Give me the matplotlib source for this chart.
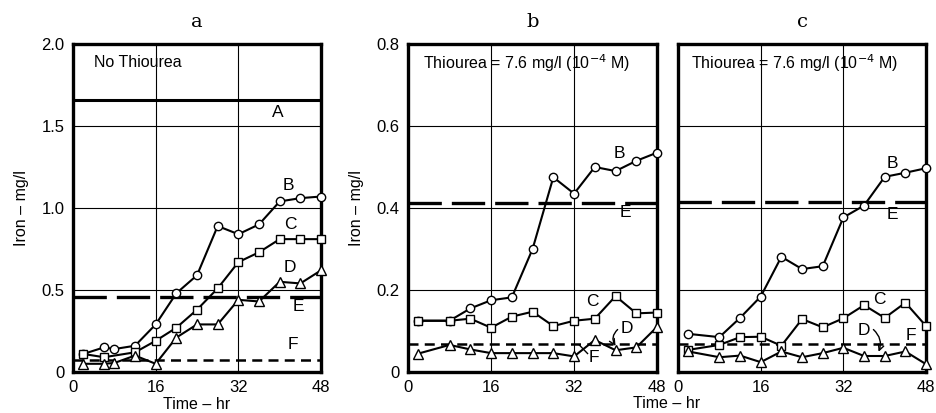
import matplotlib
matplotlib.use("Agg")
import matplotlib.pyplot as plt

# ---- data ---------------------------------------------------------------
a_t = [2, 6, 8, 12, 16, 20, 24, 28, 32, 36, 40, 44, 48]
a_B = [0.11, 0.15, 0.14, 0.16, 0.29, 0.48, 0.59, 0.89, 0.84, 0.90, 1.04, 1.06, 1.07]
a_C_t = [2, 6, 12, 16, 20, 24, 28, 32, 36, 40, 44, 48]
a_C = [0.11, 0.09, 0.12, 0.19, 0.27, 0.38, 0.51, 0.67, 0.73, 0.81, 0.81, 0.81]
a_D = [0.05, 0.05, 0.055, 0.10, 0.05, 0.21, 0.29, 0.29, 0.44, 0.43, 0.55, 0.54, 0.62]
a_ref = {"A": 1.66, "E": 0.46, "F": 0.075}

b_t = [2, 8, 12, 16, 20, 24, 28, 32, 36, 40, 44, 48]
b_B = [0.125, 0.125, 0.155, 0.175, 0.182, 0.30, 0.475, 0.435, 0.50, 0.49, 0.515, 0.535]
b_C = [0.125, 0.125, 0.13, 0.108, 0.135, 0.147, 0.112, 0.125, 0.13, 0.185, 0.143, 0.145]
b_D = [0.045, 0.066, 0.055, 0.046, 0.046, 0.046, 0.046, 0.038, 0.078, 0.053, 0.06, 0.11]
b_ref = {"E": 0.412, "F": 0.068}

c_t = [2, 8, 12, 16, 20, 24, 28, 32, 36, 40, 44, 48]
c_B = [0.093, 0.085, 0.132, 0.184, 0.281, 0.251, 0.258, 0.377, 0.406, 0.476, 0.486, 0.497]
c_C = [0.054, 0.066, 0.085, 0.086, 0.064, 0.129, 0.109, 0.131, 0.163, 0.132, 0.169, 0.112]
c_D = [0.05, 0.036, 0.04, 0.024, 0.05, 0.036, 0.046, 0.059, 0.039, 0.039, 0.05, 0.019]
c_ref = {"E": 0.415, "F": 0.068}

x_ticks = [0, 16, 32, 48]
a_yticks = [0, 0.5, 1.0, 1.5, 2.0]
a_ylabels = ["0", "0.5", "1.0", "1.5", "2.0"]
b_yticks = [0, 0.2, 0.4, 0.6, 0.8]
b_ylabels = ["0", "0.2", "0.4", "0.6", "0.8"]
note_b = "Thiourea = 7.6 mg/l (10$^{-4}$ M)"

plt.rcParams["font.family"] = ["Liberation Sans", "DejaVu Sans"]
fig = plt.figure(figsize=(9.36, 4.13), dpi=100)

BOT, H = 0.0993, 0.7942
ax_a = fig.add_axes([0.078, BOT, 0.265, H])
ax_b = fig.add_axes([0.436, BOT, 0.266, H])
ax_c = fig.add_axes([0.7244, BOT, 0.265, H])

LW = 1.5
MK = dict(color="black", lw=LW, mfc="white", mec="black", mew=1.0, clip_on=False, zorder=4)
LAB = 12.5


def frame(ax, ymax, yticks, ylabels):
    ax.set_xlim(0, 48)
    ax.set_ylim(0, ymax)
    ax.set_xticks(x_ticks)
    ax.set_yticks(yticks)
    if ylabels is None:
        ax.set_yticklabels([])
    else:
        ax.set_yticklabels(ylabels)
    ax.tick_params(length=0, labelsize=12, pad=6)
    ax.grid(True, color="black", lw=0.8)
    for s in ax.spines.values():
        s.set_linewidth(2.4)


def refs(ax, E, F):
    ax.axhline(E, color="black", lw=2.4, dashes=(10, 3), zorder=3)
    ax.axhline(F, color="black", lw=1.8, dashes=(4, 2.5), zorder=3)


# ---- panel a
frame(ax_a, 2.0, a_yticks, a_ylabels)
ax_a.axhline(a_ref["A"], color="black", lw=2.2, zorder=3)
refs(ax_a, a_ref["E"], a_ref["F"])
ax_a.plot(a_t, a_B, marker="o", ms=6, **MK)
ax_a.plot(a_C_t, a_C, marker="s", ms=6, **MK)
ax_a.plot(a_t, a_D, marker="^", ms=6.5, **MK)
ax_a.text(4.0, 1.89, "No Thiourea", fontsize=11.5, va="center")
for lab, x, y in [("A", 39.7, 1.58), ("B", 41.7, 1.14), ("C", 42, 0.90),
                  ("D", 42, 0.635), ("E", 43.6, 0.40), ("F", 42.5, 0.165)]:
    ax_a.text(x, y, lab, fontsize=LAB, ha="center", va="center")
ax_a.set_ylabel("Iron – mg/l", fontsize=11.5, labelpad=9)
ax_a.set_xlabel("Time – hr", fontsize=11.5, labelpad=1)

# ---- panel b
frame(ax_b, 0.8, b_yticks, b_ylabels)
refs(ax_b, b_ref["E"], b_ref["F"])
ax_b.plot(b_t, b_B, marker="o", ms=6, **MK)
ax_b.plot(b_t, b_C, marker="s", ms=6, **MK)
ax_b.plot(b_t, b_D, marker="^", ms=6.5, **MK)
ax_b.text(2.9, 0.754, note_b, fontsize=11.5, va="center")
for lab, x, y in [("B", 40.8, 0.534), ("E", 41.8, 0.388), ("C", 35.6, 0.171)]:
    ax_b.text(x, y, lab, fontsize=LAB, ha="center", va="center")
ax_b.text(42.2, 0.105, "D", fontsize=LAB, ha="center", va="center")
ax_b.annotate("", xy=(40.3, 0.058), xytext=(40.8, 0.108),
              arrowprops=dict(arrowstyle="->", lw=1.0, color="black",
                              connectionstyle="arc3,rad=0.5"))
ax_b.text(35.9, 0.036, "F", fontsize=LAB, ha="center", va="center")
ax_b.plot([33.0, 34.6], [0.066, 0.045], color="black", lw=1.0)
ax_b.set_ylabel("Iron – mg/l", fontsize=11.5, labelpad=9)

# ---- panel c
frame(ax_c, 0.8, b_yticks, None)
refs(ax_c, c_ref["E"], c_ref["F"])
ax_c.plot(c_t, c_B, marker="o", ms=6, **MK)
ax_c.plot(c_t, c_C, marker="s", ms=6, **MK)
ax_c.plot(c_t, c_D, marker="^", ms=6.5, **MK)
ax_c.text(2.6, 0.754, note_b, fontsize=11.5, va="center")
for lab, x, y in [("B", 41.5, 0.509), ("E", 41.5, 0.383), ("C", 38.9, 0.176),
                  ("F", 45.0, 0.09), ("D", 36.0, 0.102)]:
    ax_c.text(x, y, lab, fontsize=LAB, ha="center", va="center")
ax_c.annotate("", xy=(38.6, 0.043), xytext=(37.4, 0.108),
              arrowprops=dict(arrowstyle="->", lw=1.0, color="black",
                              connectionstyle="arc3,rad=-0.4"))

fig.text(667 / 936, 1 - 404 / 413, "Time – hr", fontsize=11.5, ha="center", va="center")

for ax, t in [(ax_a, "a"), (ax_b, "b"), (ax_c, "c")]:
    ax.set_title(t, fontsize=14, family="DejaVu Serif", pad=12)

fig.savefig("out.png", dpi=100)
